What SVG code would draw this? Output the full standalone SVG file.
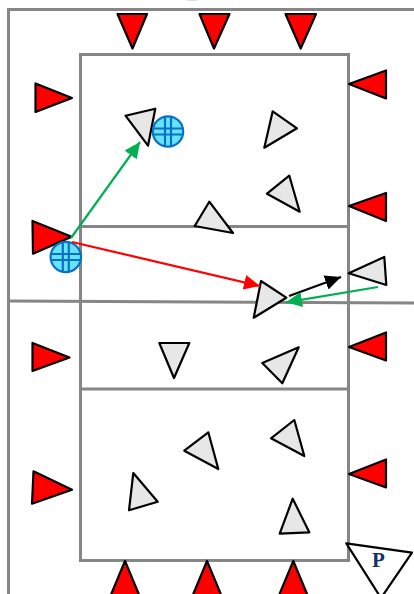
<svg xmlns="http://www.w3.org/2000/svg" width="414" height="594" viewBox="0 0 414 594">
<style>
.court{fill:none;stroke:#868686;stroke-width:3}
.r{fill:#ff0000;stroke:#000;stroke-width:2.2;stroke-linejoin:round}
.g{fill:#e7e7e7;stroke:#000;stroke-width:2.2;stroke-linejoin:round}
.p{fill:#fff;stroke:#000;stroke-width:2.2;stroke-linejoin:round}
.b{fill:#66e3ff;stroke:#0a70c4;stroke-width:2.2}
.c{fill:none;stroke-width:2.2}
.t{font-family:"Liberation Serif",serif;font-weight:bold;font-size:21px;fill:#12306e}
</style>
<defs>
<marker id="mg" markerUnits="userSpaceOnUse" markerWidth="17" markerHeight="16" refX="16" refY="8" orient="auto"><path d="M0 0.5L16 8L0 15.5Z" fill="#00b050"/></marker>
<marker id="mr" markerUnits="userSpaceOnUse" markerWidth="17" markerHeight="16" refX="16" refY="8" orient="auto"><path d="M0 0.5L16 8L0 15.5Z" fill="#ff0000"/></marker>
<marker id="mk" markerUnits="userSpaceOnUse" markerWidth="17" markerHeight="16" refX="16" refY="8" orient="auto"><path d="M0 0.5L16 8L0 15.5Z" fill="#000"/></marker>
<g id="ball"><circle class="b" r="15.2"/><path class="b" style="fill:none" d="M-15 -3H15M-15 3H15M-3 -15V15M3 -15V15"/></g>
</defs>
<rect x="187" y="0" width="10" height="1" fill="#dddddd"/>
<g id="court">
<path class="court" d="M8.5 594V9.5H414"/>
<rect class="court" x="80.5" y="54.5" width="268" height="506"/>
<path class="court" d="M80.5 226.5H348M8 301L414 303M80.5 389H348"/>
</g>
<g id="reds">
<polygon id="r1" class="r" points="117.5,14 147,14 132.5,48.5"/>
<polygon id="r2" class="r" points="199.5,14 229.5,14 214,48.5"/>
<polygon id="r3" class="r" points="285.5,14 316,14 300.7,48.5"/>
<polygon id="r4" class="r" points="35.5,83.5 35.5,112 72,98"/>
<polygon id="r5" class="r" points="349,84 386,70.5 386,98.5"/>
<polygon id="r6" class="r" points="32.5,221 33,253.7 71.7,236.7"/>
<polygon id="r7" class="r" points="349,206 386,193 386,221"/>
<polygon id="r8" class="r" points="32.5,343 32.5,371 69.5,357.5"/>
<polygon id="r9" class="r" points="349,347 386,332.5 386,360.5"/>
<polygon id="r10" class="r" points="33.5,471.3 32,503.7 72,489.7"/>
<polygon id="r11" class="r" points="349,474 386,459.5 386,487.5"/>
<polygon id="r12" class="r" points="125,561 110,597 140,597"/>
<polygon id="r13" class="r" points="207,561 192,597 222,597"/>
<polygon id="r14" class="r" points="293.3,561 278.3,597 308.3,597"/>
</g>
<g id="greys">
<polygon id="g1" class="g" points="125.5,115.7 155.3,108.7 148,145.7"/>
<polygon id="g2" class="g" points="272.7,111.3 297,128.3 264.3,147.7"/>
<polygon id="g3" class="g" points="289.3,175.7 267,193.7 299.7,211.7"/>
<polygon id="g4" class="g" points="209.3,201.7 194.7,226 233,233"/>
<polygon id="g5" class="g" points="348.7,273.3 384.3,257 386.3,285"/>
<polygon id="g6" class="g" points="261,281 286.3,297.7 253.7,317.7"/>
<polygon id="g7" class="g" points="159.3,343 189.3,343 174,378"/>
<polygon id="g8" class="g" points="298.7,347.3 262.3,363 282.3,383.3"/>
<polygon id="g9" class="g" points="294.3,420 271,438.3 304.3,456"/>
<polygon id="g10" class="g" points="208.3,432.3 184.3,450.7 218.3,469"/>
<polygon id="g11" class="g" points="133.3,473 157.7,501.7 129,510.3"/>
<polygon id="g12" class="g" points="292.7,498.7 309.3,532.3 279.7,533.7"/>
</g>
<g id="ball1"><use href="#ball" x="168" y="131.5"/></g>
<g id="ball2"><use href="#ball" x="65.8" y="257"/></g>
<g id="setter"><polygon class="p" points="346.3,543.3 412,552.7 381,598"/><text class="t" x="378.5" y="566.7" text-anchor="middle">P</text></g>
<g id="connectors">
<line class="c" stroke="#00b050" x1="71" y1="238" x2="140" y2="142" marker-end="url(#mg)"/>
<line class="c" stroke="#ff0000" x1="72" y1="242" x2="260" y2="286" marker-end="url(#mr)"/>
<line class="c" stroke="#000" x1="289" y1="296" x2="341" y2="277" marker-end="url(#mk)"/>
<line class="c" stroke="#00b050" x1="378" y1="287" x2="286" y2="302.3" marker-end="url(#mg)"/>
</g>
</svg>
